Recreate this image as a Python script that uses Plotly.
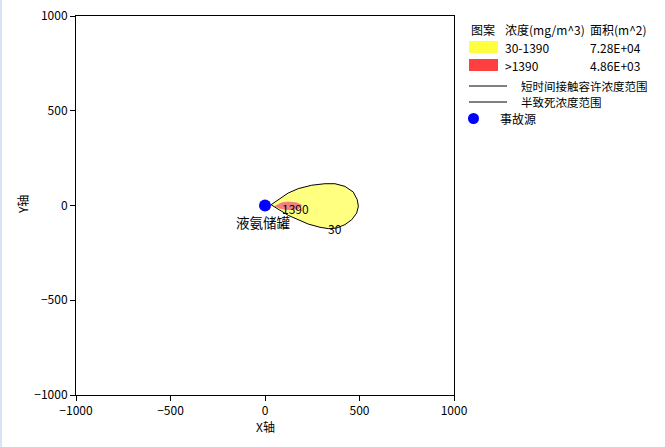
import plotly.graph_objects as go

# ---- data ----
yellow_x = [32, 70, 123, 176, 247, 317, 370, 423, 467, 488, 494, 485, 459, 423, 379, 335, 291, 229, 176, 123, 79, 32]
yellow_y = [4, 31, 66, 89, 107, 115, 115, 101, 71, 31, -4, -40, -75, -101, -119, -122, -115, -98, -75, -52, -25, 4]
red_x = [53, 88, 123, 168, 194, 176, 132, 88, 53]
red_y = [-4, 13, 18, 13, 1, -17, -22, -17, -4]
source_x = [0]
source_y = [0]
source_name = "液氨储罐"
contour_labels = ["1390", "30"]
contour_label_x = [162, 370]
contour_label_y = [-16, -122]

legend_header = ["图案", "浓度(mg/m^3)", "面积(m^2)"]
legend_ranges = ["30-1390", ">1390"]
legend_areas = ["7.28E+04", "4.86E+03"]
legend_lines = ["短时间接触容许浓度范围", "半致死浓度范围"]
legend_source = "事故源"

FONT = "Noto Sans CJK SC"
W, H = 665, 447
L, R, T, B = 76, 454, 16, 395

def px(x):
    return (x - L) / (R - L)

def py(y):
    return (B - y) / (B - T)

fig = go.Figure()
fig.add_trace(go.Scatter(x=yellow_x, y=yellow_y, mode="lines", fill="toself",
                         fillcolor="#ffff80", line=dict(color="black", width=1),
                         hoverinfo="skip", showlegend=False))
fig.add_trace(go.Scatter(x=red_x, y=red_y, mode="lines", fill="toself",
                         fillcolor="#f08080", line=dict(color="#f08080", width=1),
                         hoverinfo="skip", showlegend=False))
fig.add_trace(go.Scatter(x=source_x, y=source_y, mode="markers",
                         marker=dict(color="#0000ff", size=12),
                         hoverinfo="skip", showlegend=False))

ann = []
for t, x, y in zip(contour_labels, contour_label_x, contour_label_y):
    ann.append(dict(x=x, y=y, xref="x", yref="y", text=t, showarrow=False,
                    font=dict(family=FONT, size=12, color="black")))
ann.append(dict(x=source_x[0], y=source_y[0], xref="x", yref="y", text=source_name,
                showarrow=False, yshift=-16, xshift=-2,
                font=dict(family=FONT, size=13.5, color="black")))
# axis titles
ann.append(dict(x=px(265), y=py(426), xref="paper", yref="paper", text="X轴", showarrow=False,
                xanchor="center", yanchor="middle",
                font=dict(family=FONT, size=12, color="black")))
ann.append(dict(x=px(22), y=py(205), xref="paper", yref="paper", text="Y轴", showarrow=False,
                xanchor="center", yanchor="middle",
                textangle=-90, font=dict(family=FONT, size=12, color="black")))

# legend
hx = [469, 503, 588]
for t, x in zip(legend_header, hx):
    ann.append(dict(x=px(x), y=py(29), xref="paper", yref="paper", text=t, showarrow=False,
                    xanchor="left", yanchor="middle", font=dict(family=FONT, size=12, color="black")))
shapes = []
rows_y = [47, 65]
cols = ["#ffff40", "#ff4040"]
for i in range(2):
    y = rows_y[i]
    shapes.append(dict(type="rect", xref="paper", yref="paper", x0=px(469), x1=px(498),
                       y0=py(y - 6), y1=py(y + 6), fillcolor=cols[i], line=dict(width=0)))
    ann.append(dict(x=px(503), y=py(y), xref="paper", yref="paper", text=legend_ranges[i],
                    showarrow=False, xanchor="left", yanchor="middle",
                    font=dict(family=FONT, size=12, color="black")))
    ann.append(dict(x=px(588), y=py(y), xref="paper", yref="paper", text=legend_areas[i],
                    showarrow=False, xanchor="left", yanchor="middle",
                    font=dict(family=FONT, size=12, color="black")))
for i, t in enumerate(legend_lines):
    y = [86, 102][i]
    shapes.append(dict(type="line", xref="paper", yref="paper", x0=px(469), x1=px(507),
                       y0=py(y), y1=py(y), line=dict(color="black", width=1)))
    ann.append(dict(x=px(519), y=py(y), xref="paper", yref="paper", text=t,
                    showarrow=False, xanchor="left", yanchor="middle",
                    font=dict(family=FONT, size=11.5, color="black")))
shapes.append(dict(type="circle", xref="paper", yref="paper", x0=px(468), x1=px(479),
                   y0=py(124), y1=py(113), fillcolor="#0000ff", line=dict(width=0)))
ann.append(dict(x=px(498), y=py(118), xref="paper", yref="paper", text=legend_source,
                showarrow=False, xanchor="left", yanchor="middle",
                font=dict(family=FONT, size=12, color="black")))
# left window border
shapes.append(dict(type="rect", xref="paper", yref="paper", x0=px(0), x1=px(2),
                   y0=py(447), y1=py(0), fillcolor="#d6e4f5", line=dict(width=0), layer="below"))

axis = dict(range=[-1000, 1000], dtick=500, showline=True, mirror=True, linecolor="black",
            linewidth=1, ticks="outside", ticklen=5, tickcolor="black", showgrid=False,
            zeroline=False, automargin=False, tickfont=dict(family=FONT, size=12, color="black"))
fig.update_layout(
    width=W, height=H,
    margin=dict(l=L, r=W - R, t=T, b=H - B, pad=0, autoexpand=False),
    paper_bgcolor="white", plot_bgcolor="white",
    xaxis=axis, yaxis=axis,
    annotations=ann, shapes=shapes,
    showlegend=False,
)
fig.write_html("out.html", config={"displayModeBar": False},
               post_script="document.body.style.margin='0px';document.body.style.overflow='hidden';")
